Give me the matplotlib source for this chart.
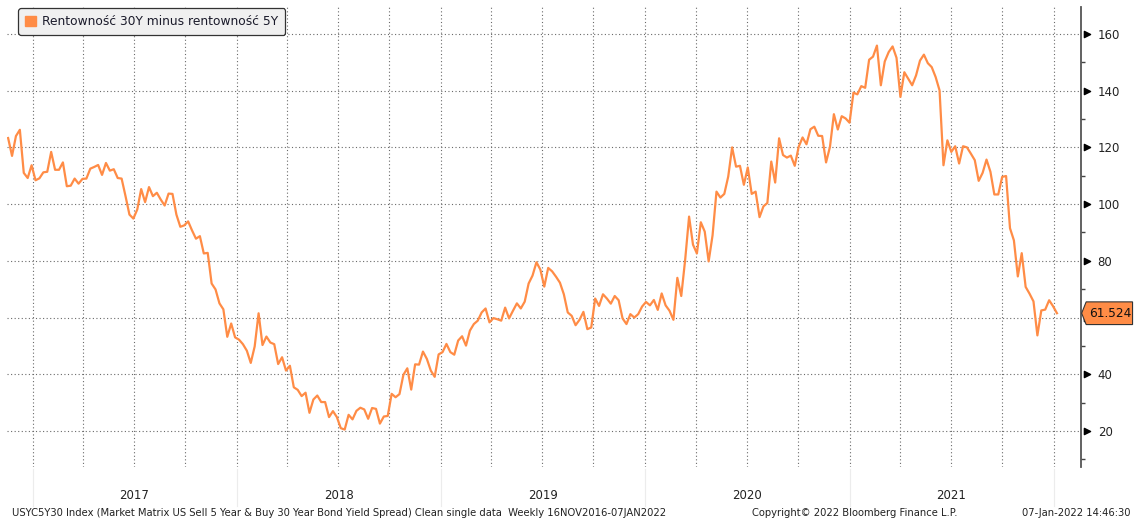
import numpy as np
import pandas as pd
import matplotlib
matplotlib.use("Agg")
import matplotlib.pyplot as plt
import matplotlib.dates as mdates
from matplotlib.patches import Patch, Polygon

# weekly spread (bp), Fridays from 18 Nov 2016 to 07 Jan 2022
spread_2016 = [123.3, 117, 124, 126.2, 111, 109.2, 113.7]
spread_2017 = [108.4, 109.1, 111.2, 111.4, 118.4, 112.1, 112.1, 114.7, 106.3, 106.5,
               109, 107.2, 108.9, 109, 112.5, 113.1, 113.8, 110.3, 114.5, 111.8,
               112.3, 109.2, 109, 102.8, 96.3, 94.9, 98.1, 105.3, 100.7, 106,
               102.8, 104, 101.6, 99.5, 103.7, 103.6, 96.3, 92, 92.5, 93.9,
               90.7, 87.8, 88.7, 82.6, 82.8, 72, 69.9, 65, 62.9, 53.2,
               57.9, 53]
spread_2018 = [52.2, 50.6, 48.3, 44, 49.8, 61.5, 50.3, 53.3, 51.2, 50.6,
               43.6, 46, 41.3, 43, 35.4, 34.5, 32.3, 33.5, 26.4, 31.1,
               32.5, 30.2, 30.2, 24.9, 27, 24.9, 21, 20.5, 25.7, 24.1,
               27.1, 28.2, 27.6, 24.3, 28.1, 27.8, 22.6, 25.1, 25.3, 33.1,
               31.9, 33, 39.8, 42.1, 34.6, 43.5, 43.4, 48, 45.4, 41.3,
               39.1, 47]
spread_2019 = [47.8, 50.7, 47.8, 46.9, 51.9, 53.4, 50.1, 55.4, 57.7, 58.9,
               61.8, 63.2, 58.3, 59.8, 59.4, 58.9, 63.5, 59.7, 62.4, 65,
               63.2, 65.6, 72, 74.8, 79.5, 76.9, 70.9, 77.5, 76.3, 74.4,
               72.3, 68.2, 61.8, 60.6, 57.3, 59.2, 62, 55.9, 56.5, 66.7,
               64.1, 68.2, 66.7, 64.9, 67.6, 66.1, 59.7, 57.7, 61.2, 60,
               61.2, 63.9]
spread_2020 = [65.5, 64.3, 66.2, 62.7, 68.5, 64.3, 62.4, 59.2, 74, 67.6,
               80.4, 95.6, 85.7, 82.6, 93.6, 90.3, 79.8, 89, 104.4, 102.3,
               103.6, 109.7, 120, 113.2, 113.5, 106.8, 112.9, 103.6, 104.4, 95.4,
               99.2, 100.4, 115, 107.6, 123.2, 117.3, 116.4, 117.1, 113.5, 120.2,
               123.5, 121.1, 126.4, 127.3, 124.1, 124, 114.7, 120.2, 131.7, 126.3,
               131, 130.2]
spread_2021 = [128.7, 139.3, 138.7, 141.6, 141, 150.9, 152, 155.9, 141.9, 150.3,
               153.6, 155.6, 151.6, 137.8, 146.5, 144.2, 141.9, 145.4, 150.6, 152.7,
               149.7, 148.3, 144.8, 140.1, 113.7, 122.5, 118.4, 120.4, 114.3, 120.4,
               120, 117.8, 115.5, 108.2, 111, 115.7, 111.4, 103.4, 103.4, 109.6,
               109.9, 91.5, 87.2, 74.5, 82.7, 70.8, 68.4, 65.7, 53.7, 62.5,
               62.8, 66.1, 64]
spread_2022 = [61.524]

spread = spread_2016 + spread_2017 + spread_2018 + spread_2019 + spread_2020 + spread_2021 + spread_2022
dates = pd.date_range(start="2016-11-18", periods=len(spread), freq="7D")

y_ticks = [20, 40, 60, 80, 100, 120, 140, 160]
# 60 sits behind the last-value tag in the original
y_labels = ["20", "40", "", "80", "100", "120", "140", "160"]
series_label = "Rentowność 30Y minus rentowność 5Y"
footer_left = ("USYC5Y30 Index (Market Matrix US Sell 5 Year & Buy 30 Year Bond Yield Spread) "
               "Clean single data  Weekly 16NOV2016-07JAN2022")
footer_mid = "Copyright© 2022 Bloomberg Finance L.P."
footer_right = "07-Jan-2022 14:46:30"

ORANGE = "#FF8C46"
GRID = "#6a6a6a"

W, H = 1136, 524
fig = plt.figure(figsize=(W / 100, H / 100), dpi=100)
ax = fig.add_axes([7 / W, 1 - 467 / H, (1081 - 7) / W, (467 - 7) / H])

ax.plot(dates, spread, color=ORANGE, lw=1.6, solid_joinstyle="round")

ax.set_xlim(pd.Timestamp("2016-11-16"), pd.Timestamp("2022-02-19"))
ax.set_ylim(7.3, 169.5)

# x axis: quarterly grid, year labels mid-year
ax.xaxis.set_major_locator(mdates.MonthLocator(bymonth=[1, 4, 7, 10]))
ax.xaxis.set_major_formatter(plt.NullFormatter())
ax.xaxis.set_minor_locator(mdates.MonthLocator(bymonth=[7], bymonthday=2))
ax.xaxis.set_minor_formatter(mdates.DateFormatter("%Y"))
ax.tick_params(axis="x", which="both", length=0)
ax.tick_params(axis="x", which="minor", pad=16, labelsize=8.5, labelcolor="#222222")

# y axis on the right
ax.yaxis.tick_right()
ax.set_yticks(y_ticks)
ax.set_yticklabels(y_labels)
ax.set_yticks(np.arange(10, 170, 20), minor=True)
ax.tick_params(axis="y", which="major", length=0, pad=12, labelsize=8.5, labelcolor="#222222")
ax.tick_params(axis="y", which="minor", length=3, width=1, color="#444444", direction="out")

ax.grid(True, which="major", color=GRID, lw=0.8, linestyle=(0, (1, 2.2)))

for side in ["left", "top", "bottom"]:
    ax.spines[side].set_visible(False)
ax.spines["right"].set_color("#555555")
ax.spines["right"].set_linewidth(1.3)

# triangle tick markers
ytr = ax.get_yaxis_transform()
ax.scatter([1.0055] * len(y_ticks), y_ticks, marker=">", s=20, color="black",
           transform=ytr, clip_on=False, zorder=5)

# year separators below axis
for yr in range(2017, 2023):
    d = mdates.date2num(pd.Timestamp(f"{yr}-01-01"))
    ax.plot([d, d], [-0.005, -0.085], transform=ax.get_xaxis_transform(),
            color="#ececec", lw=0.8, clip_on=False)

# last value tag
last = spread[-1]
tag = Polygon([[1.0006, last], [1.0048, last + 4.0], [1.048, last + 4.0],
               [1.048, last - 4.0], [1.0048, last - 4.0]], closed=True,
              transform=ytr, facecolor=ORANGE, edgecolor="#333333", lw=0.8,
              clip_on=False, zorder=6)
ax.add_patch(tag)
ax.text(1.0078, last, f"{last:.3f}", transform=ytr, va="center", ha="left",
        fontsize=8.7, color="#111111", zorder=7, clip_on=False)

leg = ax.legend(handles=[Patch(facecolor=ORANGE, edgecolor=ORANGE, label=series_label)],
                loc="upper left", bbox_to_anchor=(0.0095, 1.0), frameon=True, fancybox=True,
                facecolor="#f0f0f0", edgecolor="#333333", framealpha=1, fontsize=8.8,
                handlelength=0.9, handleheight=0.9, handletextpad=0.5, borderpad=0.55,
                borderaxespad=0.1)
leg.get_frame().set_linewidth(0.9)
for t in leg.get_texts():
    t.set_color("#1a1a2a")

fig.text(12 / W, 1 - 513 / H, footer_left, fontsize=7.2, va="center", ha="left", color="#222222")
fig.text(752 / W, 1 - 513 / H, footer_mid, fontsize=7.2, va="center", ha="left", color="#222222")
fig.text(1131 / W, 1 - 513 / H, footer_right, fontsize=7.2, va="center", ha="right", color="#222222")

fig.savefig("out.png", dpi=100, facecolor="white")
